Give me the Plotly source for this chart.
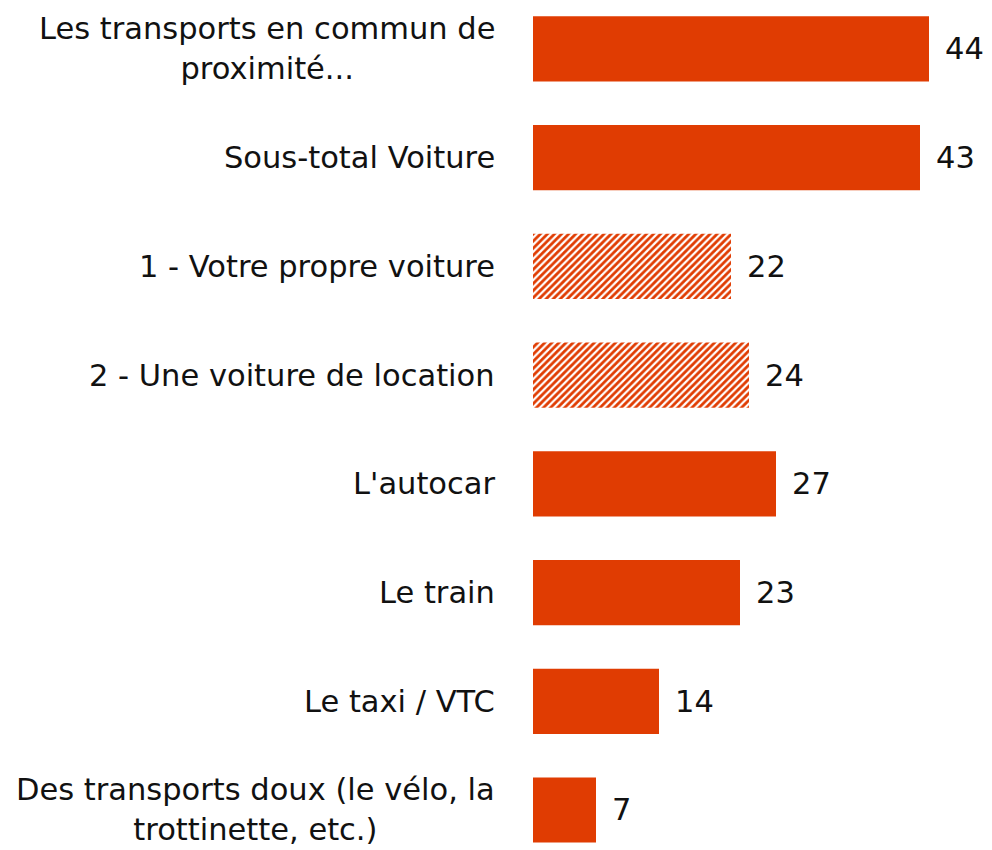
import plotly.graph_objects as go

categories = [
    "Les transports en commun de<br>proximité...",
    "Sous-total Voiture",
    "1 - Votre propre voiture",
    "2 - Une voiture de location",
    "L'autocar",
    "Le train",
    "Le taxi / VTC",
    "Des transports doux (le vélo, la<br>trottinette, etc.)",
]
values = [44, 43, 22, 24, 27, 23, 14, 7]
hatched = [False, False, True, True, False, False, False, False]

ORANGE = "#E03C02"
FONT = "DejaVu Sans"
FSIZE = 30.5
n = len(categories)

fig = go.Figure()
fig.add_trace(go.Bar(
    y=list(range(n)),
    x=values,
    orientation="h",
    width=0.6,
    marker=dict(
        color=[ORANGE] * n,
        line=dict(width=0),
        pattern=dict(
            shape=["/" if h else "" for h in hatched],
            fgcolor=[ORANGE] * n,
            bgcolor=["white"] * n,
            size=5,
            solidity=0.55,
            fillmode="replace",
        ),
    ),
    hoverinfo="skip",
))

annotations = []
for i, (cat, v) in enumerate(zip(categories, values)):
    annotations.append(dict(
        x=0, xref="paper", y=i, yref="y",
        text=cat, showarrow=False,
        xanchor="right", yanchor="middle", align="center",
        xshift=-36,
        font=dict(family=FONT, size=FSIZE, color="#111111"),
    ))
    annotations.append(dict(
        x=v, xref="x", y=i, yref="y",
        text=str(v), showarrow=False,
        xanchor="left", yanchor="middle",
        xshift=14,
        font=dict(family=FONT, size=FSIZE, color="#111111"),
    ))

fig.update_layout(
    width=984,
    height=842,
    margin=dict(l=525, r=9, t=0, b=0),
    paper_bgcolor="white",
    plot_bgcolor="white",
    showlegend=False,
    annotations=annotations,
    xaxis=dict(range=[0, 50], visible=False),
    yaxis=dict(
        range=[7.368, -0.377],
        showticklabels=False,
        ticks="",
        showgrid=False,
        zeroline=False,
        showline=False,
    ),
)

fig.write_html("out.html")
